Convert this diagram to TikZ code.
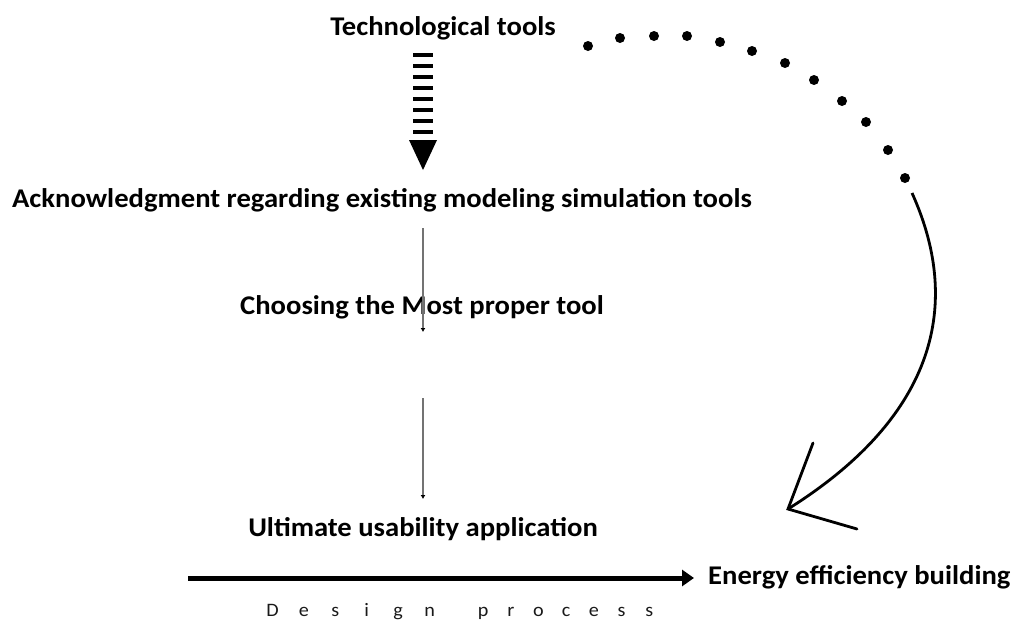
\documentclass[tikz,border=0pt]{standalone}
\usepackage{fontspec}
\setmainfont{Carlito}[FakeStretch=1.06]
\usetikzlibrary{arrows.meta}
\begin{document}
\begin{tikzpicture}[x=1pt,y=-1pt,
  lbl/.style={font=\bfseries\fontsize{27}{30}\selectfont, inner sep=0pt, anchor=center},
  thin arrow/.style={draw=black!55, line width=1.8pt, -{Latex[length=4pt,width=5pt,black]}},
  dotstyle/.style={circle, fill=black, inner sep=0pt, minimum size=10pt}]
\useasboundingbox (0,0) rectangle (1013,627);
\node[lbl] (tech) at (443,28) {Technological tools};
\node[lbl] (ack) at (382,200) {Acknowledgment regarding existing modeling simulation tools};
\node[lbl] (choose) at (422,307) {Choosing the Most proper tool};
\node[lbl] (ult) at (423,529) {Ultimate usability application};
\node[lbl, anchor=west] (energy) at (708,577) {Energy efficiency building};
\node[font=\fontsize{19}{21}\selectfont, text=black!90, inner sep=0pt] (design) at (460,612)
  {\makebox[31.4pt]{D}\makebox[31.4pt]{e}\makebox[31.4pt]{s}\makebox[31.4pt]{i}\makebox[31.4pt]{g}\makebox[31.4pt]{n}\hspace{24pt}\makebox[27.7pt]{p}\makebox[27.7pt]{r}\makebox[27.7pt]{o}\makebox[27.7pt]{c}\makebox[27.7pt]{e}\makebox[27.7pt]{s}\makebox[27.7pt]{s}};
% dashed thick arrow
\foreach \yy in {55,66,77,88,99,110,121,132}
  \fill[black] (413,\yy-1.8) rectangle (433,\yy+1.8);
\fill[black] (409,140) -- (437,140) -- (423,170) -- cycle;
% thin arrows
\draw[thin arrow] (423,228) -- (423,332);
\draw[thin arrow] (423,398) -- (423,499);
% thick arrow
\coordinate (ts) at (188,578);
\draw[line width=5pt, -{Triangle[length=12pt,width=16pt]}, shorten >=14pt] (ts) -- (energy.west |- ts);
% dots
\foreach \p in {(588,46),(620,38),(654,36),(687,36),(720,42),(752,51),(785,63),(814,80),(842,101),(866,122),(888,150),(905,178)}
  \node[dotstyle] at \p {};
% solid curve
\coordinate (cs) at (912,193);
\coordinate (tip) at (788,509);
\draw[line width=2.8pt] (cs) .. controls (965,310) and (930,420) .. (tip);
\draw[line width=2.8pt, line cap=round] (813,443) -- (tip) -- (857,529);
\end{tikzpicture}
\end{document}
